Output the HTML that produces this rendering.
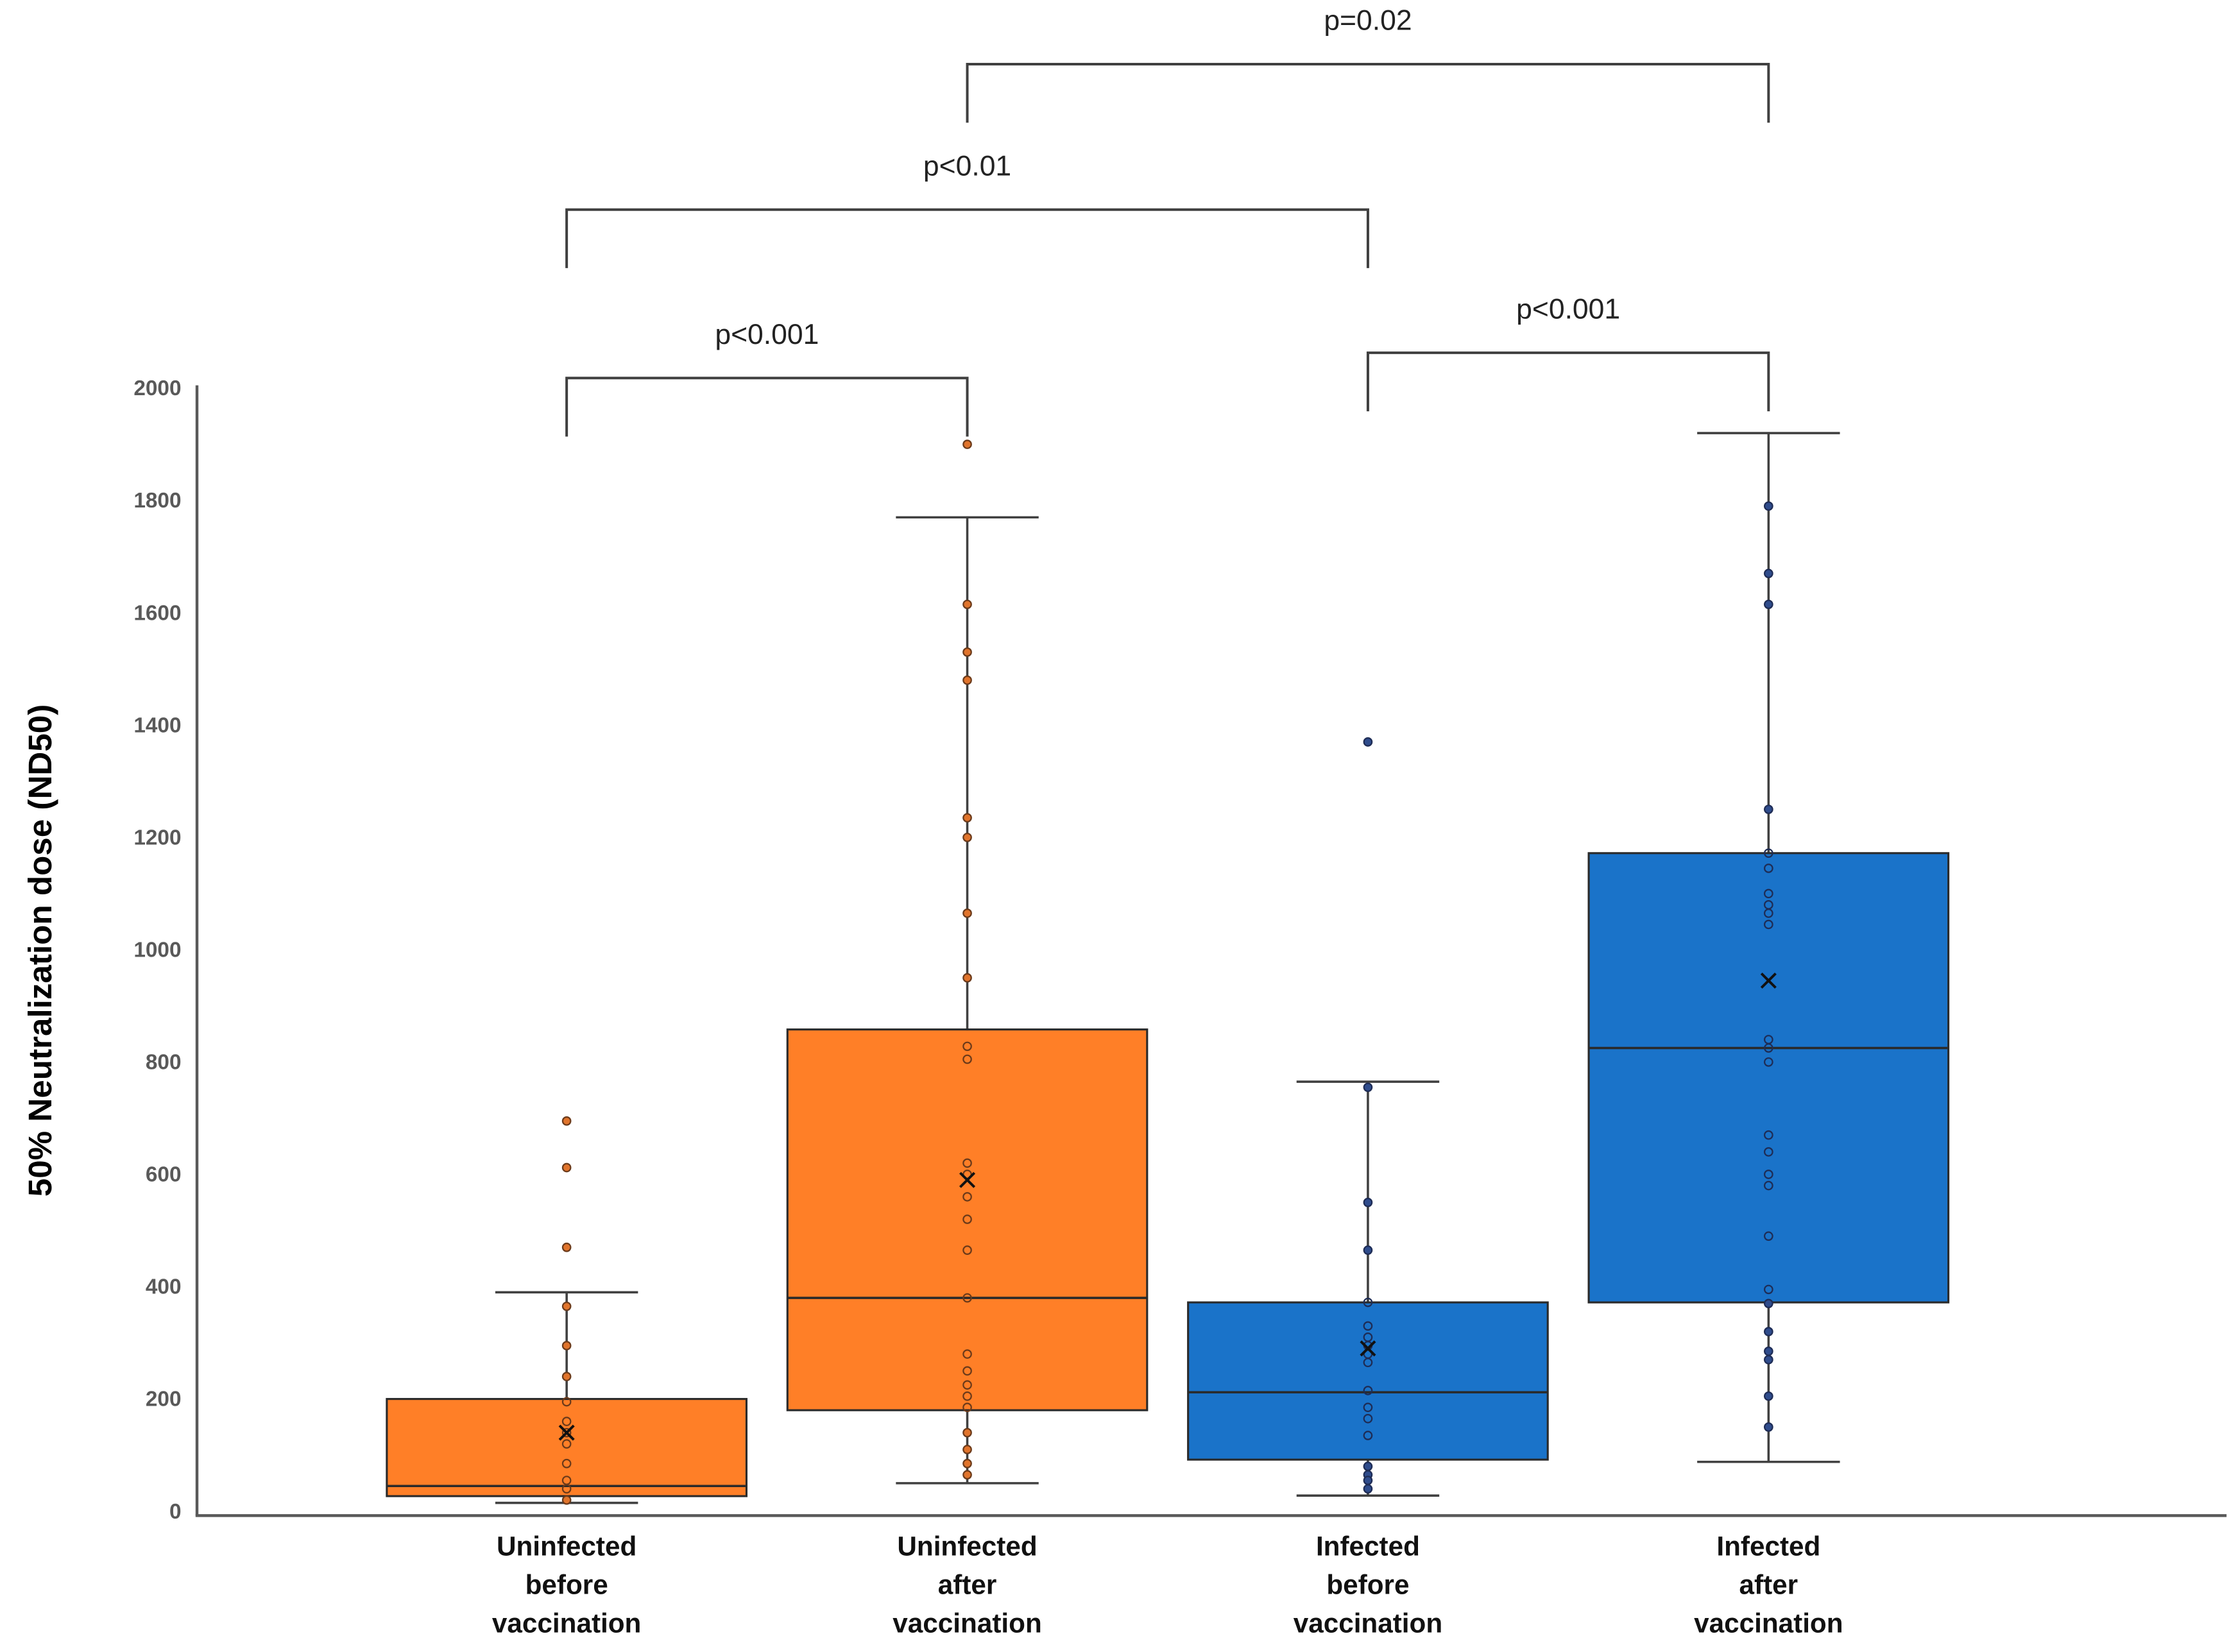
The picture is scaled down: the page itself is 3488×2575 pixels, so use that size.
<!DOCTYPE html>
<html><head><meta charset="utf-8"><style>
html,body{margin:0;padding:0;background:#fff;}
svg{display:block;}
</style></head><body>
<svg id="chart" width="3488" height="2575" viewBox="0 0 1568 1157.6" xmlns="http://www.w3.org/2000/svg">
<g id="axes"></g>
<g id="brackets"></g>
<g id="boxes"></g>
<g id="labels"></g>
</svg>
<script>
const categories = [["Uninfected","before","vaccination"],["Uninfected","after","vaccination"],["Infected","before","vaccination"],["Infected","after","vaccination"]];
const q1 = [27, 180, 92, 372];
const q3 = [200, 858, 372, 1172];
const medians = [45, 380, 212, 825];
const whiskerLow = [15, 50, 28, 88];
const whiskerHigh = [390, 1770, 765, 1920];
const means = [140, 590, 290, 945];
const points0 = [695,612,470,365,295,240,195,160,140,120,85,55,40,20];
const points1 = [1900,1615,1530,1480,1235,1200,1065,950,828,805,620,600,560,520,465,380,280,250,225,205,185,140,110,85,65];
const points2 = [1370,755,550,465,372,330,310,295,280,265,215,185,165,135,80,65,55,40];
const points3 = [1790,1670,1615,1250,1172,1145,1100,1080,1065,1045,840,825,800,670,640,600,580,490,395,370,320,285,270,205,150];
const yTicks = [0,200,400,600,800,1000,1200,1400,1600,1800,2000];
const bracketPairs = [[0,1],[0,2],[1,3],[2,3]];
const bracketLabels = ["p<0.001","p<0.01","p=0.02","p<0.001"];
const bracketLevels = [2018, 2318, 2577, 2063];

const NS="http://www.w3.org/2000/svg";
const y = v => 1059 - v*0.3935;
const x = i => 397 + i*280.7;
const boxHalf = 126, capHalf = 50;
const fills = ["#FF7F27","#FF7F27","#1A73C9","#1A73C9"];
const ptFill = ["#E0742C","#E0742C","#2F4C8C","#2F4C8C"];
const ptStroke = ["#6B3A1A","#6B3A1A","#1E2C55","#1E2C55"];
const allPoints=[points0,points1,points2,points3];
function mk(tag, attrs, parent){const e=document.createElementNS(NS,tag);for(const k in attrs)e.setAttribute(k,attrs[k]);parent.appendChild(e);return e;}
const axes=document.getElementById('axes'), br=document.getElementById('brackets'), bx=document.getElementById('boxes'), lb=document.getElementById('labels');

let e=mk('line',{x1:138,y1:270,x2:138,y2:1062,stroke:'#595959','stroke-width':2},axes);


e=mk('line',{x1:137,y1:1062,x2:1560,y2:1062,stroke:'#595959','stroke-width':2},axes);


yTicks.forEach(t=>{
  const tx=mk('text',{x:127,y:y(t)+5,'text-anchor':'end','font-family':'Liberation Sans, sans-serif','font-weight':'bold','font-size':15,fill:'#595959'},axes);
  tx.textContent=t;
  
  
});
e=mk('text',{x:0,y:0,transform:'translate(36,666) rotate(-90)','text-anchor':'middle','font-family':'Liberation Sans, sans-serif','font-weight':'bold','font-size':23,fill:'#000'},axes);
e.textContent='50% Neutralization dose (ND50)';



categories.forEach((c,i)=>{
  const g=mk('g',{},bx);
  
  
  const cx=x(i);
  mk('line',{x1:cx,y1:y(whiskerHigh[i]),x2:cx,y2:y(whiskerLow[i]),stroke:'#404040','stroke-width':1.6},g);
  mk('line',{x1:cx-capHalf,y1:y(whiskerHigh[i]),x2:cx+capHalf,y2:y(whiskerHigh[i]),stroke:'#404040','stroke-width':1.6},g);
  mk('line',{x1:cx-capHalf,y1:y(whiskerLow[i]),x2:cx+capHalf,y2:y(whiskerLow[i]),stroke:'#404040','stroke-width':1.6},g);
  mk('rect',{x:cx-boxHalf,y:y(q3[i]),width:boxHalf*2,height:y(q1[i])-y(q3[i]),fill:fills[i],stroke:'#2a2a2a','stroke-width':1.4},g);
  mk('line',{x1:cx-boxHalf,y1:y(medians[i]),x2:cx+boxHalf,y2:y(medians[i]),stroke:'#2a2a2a','stroke-width':1.6},g);
  allPoints[i].forEach(v=>{
    const inside = v>=q1[i] && v<=q3[i];
    const p=mk('circle',{cx:cx,cy:y(v),r:2.8,fill:inside?'none':ptFill[i],stroke:ptStroke[i],'stroke-width':1},g);
    
    
  });
  const my=y(means[i]);
  mk('path',{d:`M${cx-5} ${my-5}L${cx+5} ${my+5}M${cx+5} ${my-5}L${cx-5} ${my+5}`,stroke:'#111','stroke-width':1.8},g);
  c.forEach((line,k)=>{
    const t=mk('text',{x:cx,y:1090+k*27,'text-anchor':'middle','font-family':'Liberation Sans, sans-serif','font-weight':'bold','font-size':19,fill:'#111'},lb);
    t.textContent=line;
    
    
  });
});

bracketPairs.forEach((pr,k)=>{
  const x1=x(pr[0]), x2=x(pr[1]);
  const ty=y(bracketLevels[k]);
  const g=mk('g',{},br);
  
  
  mk('path',{d:`M${x1} ${ty+41}V${ty}H${x2}V${ty+41}`,fill:'none',stroke:'#404040','stroke-width':1.8},g);
  const t=mk('text',{x:(x1+x2)/2,y:ty-24,'text-anchor':'middle','font-family':'Liberation Sans, sans-serif','font-size':20,fill:'#222'},g);
  t.textContent=bracketLabels[k];
  
  
});
</script>
</body></html>
